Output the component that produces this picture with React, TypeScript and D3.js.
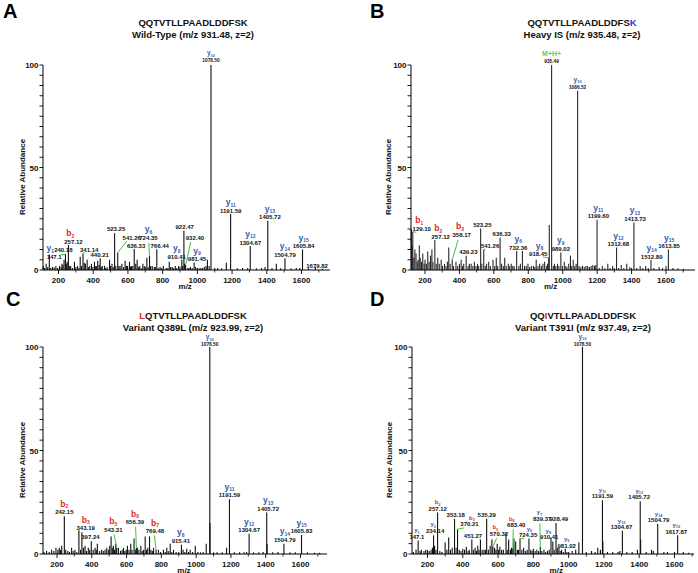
import React from 'react';
import * as d3 from 'd3';

type Peak = [number, number];
type Ann = {
  mz: number; ab: number; num: string; ion?: string; sub?: string;
  lx: number; ly: number; ix?: number; ls?: [number, number]; top?: boolean;
};

// ---------------- DATA ----------------
const seqs = ['QQTVTLLPAADLDDFSK', 'QQTVTLLPAADLDDFSK', 'LQTVTLLPAADLDDFSK', 'QQIVTLLPAADLDDFSK'];
const seqHighlight = [-1, 16, 0, 2];
const subtitles = [
  'Wild-Type (m/z 931.48, z=2)',
  'Heavy IS (m/z 935.48, z=2)',
  'Variant Q389L (m/z 923.99, z=2)',
  'Variant T391I (m/z 937.49, z=2)',
];
const letters = ['A', 'B', 'C', 'D'];
const xTickValues = [200, 400, 600, 800, 1000, 1200, 1400, 1600];
const yTickLabels = [0, 50, 100];

const peaksA: Peak[] = [
  [112, 2], [120, 1], [129, 3], [138, 1.5], [147.1, 7.6], [155, 1], [165, 1.5], [175, 1.2], [185, 2], [195, 1],
  [206, 2], [215, 1.5], [220, 3], [226, 2.5], [232, 5], [240.18, 7.8], [245, 3], [250, 4], [257.12, 12.2], [262, 2],
  [270, 2], [280, 1], [292, 4], [300, 1.5], [310, 2], [318, 1], [325, 6.5], [333, 2], [341.14, 8.1], [348, 3.5],
  [355, 3], [365, 5], [372, 1.5], [380, 2], [390, 3], [398, 1.5], [407, 4], [412, 2], [418, 2], [426, 4.5],
  [434, 2.5], [440.21, 5.7], [446, 1.5], [452, 2], [465, 2], [472, 1], [480, 1.5], [494, 5], [500, 2], [508, 3],
  [515, 1.5], [523.25, 17.9], [530, 2], [541.26, 8.4], [548, 2], [555, 2], [565, 3], [575, 1.5], [584, 4.5], [592, 2],
  [598, 2], [609, 4], [615, 1.5], [620, 2], [628, 2], [636.33, 10.2], [645, 3], [653, 5], [660, 1.5], [668, 2],
  [676, 1], [686, 3], [694, 2], [700, 1.5], [709, 6], [716, 1.5], [724.35, 6.8], [731, 2], [740, 2], [752, 1.5],
  [758, 1.5], [766.44, 10.1], [775, 1], [785, 1.5], [795, 1], [804, 2], [820, 1], [830, 1], [838, 4], [846, 1.5],
  [855, 1.5], [864, 1], [873, 2], [882, 1], [892, 2], [900, 1.5], [910.41, 4.9], [915, 2], [922.47, 19.2], [927, 3],
  [932.4, 2.5], [945, 1], [952, 1], [960, 1.5], [970, 1], [981.45, 3.6], [990, 1.5], [1000, 1], [1010, 0.8], [1020, 1],
  [1030, 1], [1040, 1.5], [1050, 2], [1058, 5], [1068, 2], [1078.5, 100], [1100, 1], [1117, 1], [1140, 0.8], [1167, 3.5],
  [1191.59, 27.3], [1230, 0.8], [1260, 1], [1290, 1], [1304.67, 11.7], [1340, 0.8], [1370, 1], [1390, 1.5], [1405.72, 24], [1430, 1],
  [1455, 3], [1480, 0.8], [1504.79, 5.7], [1540, 0.8], [1570, 1], [1590, 1], [1605.84, 10], [1640, 0.8], [1679.82, 1.5], [1720, 0.6],
];

const annA: Ann[] = [
  { mz: 147.1, ab: 7.6, num: '147.1', ion: 'y', sub: '1', lx: 175, ly: 5.5, ix: 152 },
  { mz: 240.18, ab: 7.8, num: '240.18', lx: 228, ly: 8.6, ls: [212, 7.4] },
  { mz: 257.12, ab: 12.2, num: '257.12', ion: 'b', sub: '2', lx: 286, ly: 12.8, ix: 268 },
  { mz: 341.14, ab: 8.1, num: '341.14', lx: 377, ly: 8.7, ls: [352, 8.5] },
  { mz: 440.21, ab: 5.7, num: '440.21', lx: 437, ly: 6.4 },
  { mz: 523.25, ab: 17.9, num: '523.25', lx: 532, ly: 18.8 },
  { mz: 541.26, ab: 8.4, num: '541.26', lx: 622, ly: 14.7, ls: [594, 14.2] },
  { mz: 636.33, ab: 10.2, num: '636.33', lx: 647, ly: 10.9 },
  { mz: 724.35, ab: 6.8, num: '724.35', ion: 'y', sub: '6', lx: 718, ly: 14.7, ls: [720, 13.2] },
  { mz: 766.44, ab: 10.1, num: '766.44', lx: 783, ly: 10.8 },
  { mz: 910.41, ab: 4.9, num: '910.41', ion: 'y', sub: '8', lx: 881, ly: 5.4, ls: [904, 5.3] },
  { mz: 922.47, ab: 19.2, num: '922.47', lx: 927, ly: 19.9 },
  { mz: 932.4, ab: 2.5, num: '932.40', lx: 986, ly: 14.7, ls: [962, 13.6] },
  { mz: 981.45, ab: 3.6, num: '981.45', ion: 'y', sub: '9', lx: 998, ly: 4.3 },
  { mz: 1078.5, ab: 100, num: '1078.50', ion: 'y', sub: '10', lx: 1078.5, ly: 101.5, top: true },
  { mz: 1191.59, ab: 27.3, num: '1191.59', ion: 'y', sub: '11', lx: 1192, ly: 28 },
  { mz: 1304.67, ab: 11.7, num: '1304.67', ion: 'y', sub: '12', lx: 1305, ly: 12.4 },
  { mz: 1405.72, ab: 24, num: '1405.72', ion: 'y', sub: '13', lx: 1418, ly: 24.7 },
  { mz: 1504.79, ab: 5.7, num: '1504.79', ion: 'y', sub: '14', lx: 1505, ly: 6.4 },
  { mz: 1605.84, ab: 10, num: '1605.84', ion: 'y', sub: '15', lx: 1612, ly: 10.7 },
  { mz: 1679.82, ab: 1.5, num: '1679.82', lx: 1690, ly: 1.2 },
];

const peaksB: Peak[] = [
  [121, 20], [126, 12], [129.1, 18.7], [135, 6], [141, 10], [148, 8], [155, 4], [160, 5], [167, 12], [172, 6],
  [180, 4], [187, 8], [195, 3], [200, 5], [208, 3], [216, 9], [224, 4], [232, 7], [240, 10], [246, 4],
  [257.12, 14.6], [265, 3], [274, 6], [283, 3], [294, 5], [302, 2], [313, 3], [322, 2], [330, 4], [338, 11],
  [346, 3], [358.17, 5], [366, 2], [380, 4], [390, 2], [400, 3], [410, 5], [418, 2], [425, 3], [439.23, 7],
  [450, 2], [458, 3], [468, 3], [478, 2], [487, 4], [496, 2], [505, 3], [512, 2], [523.25, 20.3], [530, 3],
  [541.26, 10], [550, 2], [558, 3], [570, 4], [580, 2], [595, 5], [605, 2], [614, 6], [622, 2], [636.33, 15.8],
  [645, 3], [655, 2], [663, 6], [672, 2], [684, 3], [692, 2], [701, 3], [710, 2], [718, 2], [732.36, 9.3],
  [745, 2], [754, 3], [766, 9.3], [778, 2], [788, 2], [798, 3], [808, 1.5], [818, 2], [830, 2], [838, 1.5],
  [846, 5], [856, 2], [866, 3], [876, 2], [885, 3], [895, 4], [905, 2], [912, 3], [918.45, 6], [922, 22],
  [935.49, 100], [945, 2], [952, 3], [960, 2], [970, 3], [978, 2], [989.02, 8.5], [998, 2], [1009, 4], [1018, 2],
  [1025, 1.5], [1035, 3], [1045, 7], [1052, 2], [1061, 5], [1070, 2], [1078, 3], [1086.52, 87.5], [1095, 2], [1105, 1.5],
  [1115, 2], [1125, 1.5], [1135, 2], [1145, 2], [1155, 1.5], [1165, 2], [1175, 2.5], [1185, 2], [1192, 2.5], [1199.6, 24.5],
  [1212, 1], [1230, 2], [1245, 1], [1262, 3], [1275, 1], [1290, 2], [1300, 1], [1312.68, 11], [1325, 1], [1340, 2.5],
  [1355, 1], [1372, 3], [1390, 1.5], [1400, 1], [1413.73, 23.2], [1430, 1], [1450, 2], [1465, 1], [1482, 2], [1497, 1],
  [1512.8, 4.9], [1530, 1], [1560, 1.5], [1580, 1], [1600, 2], [1613.85, 10], [1640, 1], [1670, 0.8], [1700, 0.6],
];

const annB: Ann[] = [
  { mz: 129.1, ab: 18.7, num: '129.10', ion: 'b', sub: '1', lx: 181, ly: 19.2, ix: 167, ls: [150, 18.4] },
  { mz: 257.12, ab: 14.6, num: '257.12', ion: 'b', sub: '2', lx: 291, ly: 15.3, ix: 277 },
  { mz: 358.17, ab: 5, num: '358.17', ion: 'b', sub: '3', lx: 413, ly: 16.2, ix: 403, ls: [392, 14.6] },
  { mz: 439.23, ab: 7, num: '439.23', lx: 452, ly: 7.8 },
  { mz: 523.25, ab: 20.3, num: '523.25', lx: 533, ly: 21.1 },
  { mz: 541.26, ab: 10, num: '541.26', lx: 578, ly: 10.6, ls: [552, 10.2] },
  { mz: 636.33, ab: 15.8, num: '636.33', lx: 646, ly: 16.6 },
  { mz: 732.36, ab: 9.3, num: '732.36', ion: 'y', sub: '6', lx: 742, ly: 10 },
  { mz: 918.45, ab: 6, num: '918.45', ion: 'y', sub: '8', lx: 858, ly: 6.6, ix: 865, ls: [885, 6.3] },
  { mz: 989.02, ab: 8.5, num: '989.02', ion: 'y', sub: '9', lx: 989, ly: 9.3 },
  { mz: 935.49, ab: 100, num: '935.49', ion: 'M+H+', lx: 935.49, ly: 101.1, top: true },
  { mz: 1086.52, ab: 87.5, num: '1086.52', ion: 'y', sub: '10', lx: 1086.5, ly: 88.5, top: true },
  { mz: 1199.6, ab: 24.5, num: '1199.60', ion: 'y', sub: '11', lx: 1207, ly: 25.2 },
  { mz: 1312.68, ab: 11, num: '1312.68', ion: 'y', sub: '12', lx: 1323, ly: 11.7 },
  { mz: 1413.73, ab: 23.2, num: '1413.73', ion: 'y', sub: '13', lx: 1420, ly: 24 },
  { mz: 1512.8, ab: 4.9, num: '1512.80', ion: 'y', sub: '14', lx: 1517, ly: 5.6 },
  { mz: 1613.85, ab: 10, num: '1613.85', ion: 'y', sub: '15', lx: 1618, ly: 10.7 },
];

const peaksC: Peak[] = [
  [112, 1], [125, 1], [140, 1.5], [155, 1], [169, 2], [182, 1.5], [194, 3], [205, 2], [213, 3], [220, 2],
  [227, 4], [242.15, 18.2], [250, 2], [262, 1.5], [272, 1], [284, 3], [293, 1.5], [303, 2], [314, 1], [326, 11.5],
  [335, 2], [343.19, 10.5], [352, 3], [361, 4], [370, 1.5], [380, 3], [388, 2], [397.24, 6.2], [408, 2], [419, 3],
  [426, 2], [432, 5], [445, 1.5], [457, 2], [466, 1.5], [476, 2], [486, 3], [495, 2], [503, 4], [511, 8.5],
  [518, 3], [524, 4], [531, 2], [538, 5], [543.31, 3], [553, 3], [565, 1.5], [574, 2], [582, 3], [590, 1.5],
  [598, 2], [605, 4], [614, 2], [624, 5], [631, 2], [643, 7.5], [650, 2], [656.39, 3], [662, 3], [671, 2],
  [682, 4], [690, 1.5], [698, 2], [707, 8.5], [715, 2], [722, 3], [732, 8.5], [740, 2], [748, 1.5], [755, 3],
  [769.48, 2], [783, 2], [795, 1], [812, 2], [822, 1], [831, 3], [840, 1.5], [851, 5], [860, 1], [870, 2],
  [885, 1], [900, 1], [915.41, 4.5], [925, 2], [935, 1], [946, 2.5], [956, 1], [966, 2], [980, 1], [995, 4],
  [1010, 1], [1025, 0.8], [1040, 1], [1058, 5], [1078.5, 100], [1079.6, 15], [1100, 0.8], [1120, 0.8], [1150, 0.8], [1175, 3],
  [1191.59, 26.5], [1220, 0.8], [1250, 0.8], [1275, 0.8], [1290, 1], [1304.67, 9.8], [1330, 0.8], [1360, 0.8], [1385, 1], [1405.72, 20],
  [1408, 5], [1440, 0.8], [1470, 1], [1504.79, 5], [1540, 0.8], [1570, 0.8], [1605.83, 9.2], [1640, 0.8], [1680, 0.6], [1710, 0.6],
];

const annC: Ann[] = [
  { mz: 242.15, ab: 18.2, num: '242.15', ion: 'b', sub: '2', lx: 242, ly: 19.1 },
  { mz: 343.19, ab: 10.5, num: '343.19', ion: 'b', sub: '3', lx: 365, ly: 11.5 },
  { mz: 397.24, ab: 6.2, num: '397.24', lx: 392, ly: 7.1 },
  { mz: 543.31, ab: 3, num: '543.31', ion: 'b', sub: '5', lx: 524, ly: 10.7, ls: [528, 9.4] },
  { mz: 656.39, ab: 3, num: '656.39', ion: 'b', sub: '6', lx: 648, ly: 14.4, ls: [652, 13.2] },
  { mz: 769.48, ab: 2, num: '769.48', ion: 'b', sub: '7', lx: 763, ly: 10.1, ls: [760, 8.9] },
  { mz: 915.41, ab: 4.5, num: '915.41', ion: 'y', sub: '8', lx: 912, ly: 5.4 },
  { mz: 1078.5, ab: 100, num: '1078.50', ion: 'y', sub: '10', lx: 1078.5, ly: 100.6, top: true },
  { mz: 1191.59, ab: 26.5, num: '1191.59', ion: 'y', sub: '11', lx: 1192, ly: 27.3 },
  { mz: 1304.67, ab: 9.8, num: '1304.67', ion: 'y', sub: '12', lx: 1305, ly: 10.6 },
  { mz: 1405.72, ab: 20, num: '1405.72', ion: 'y', sub: '13', lx: 1414, ly: 20.8 },
  { mz: 1504.79, ab: 5, num: '1504.79', ion: 'y', sub: '14', lx: 1510, ly: 5.8 },
  { mz: 1605.83, ab: 9.2, num: '1605.83', ion: 'y', sub: '15', lx: 1606, ly: 10 },
];

const peaksD: Peak[] = [
  [120, 1], [135, 2], [147.1, 6.5], [158, 1.5], [165, 2], [180, 1.5], [190, 2], [200, 2], [210, 1.5], [220, 2],
  [228, 3], [234.14, 9], [240, 4], [248, 2], [257.12, 20], [270, 1.5], [282, 1], [300, 5.5], [310, 2], [320, 8],
  [330, 2], [340, 3], [353.18, 17], [362, 3], [370.21, 12], [380, 2], [390, 1.5], [400, 2.5], [410, 2], [420, 3.5],
  [430, 1.5], [437, 2], [451.27, 7], [460, 2], [470, 3], [478, 1.5], [485, 4], [492, 2], [500, 7], [510, 2],
  [520, 2], [528, 2], [535.29, 17], [545, 2], [555, 4], [565, 7], [570.32, 3.5], [580, 3], [588, 2], [595, 5],
  [603, 2], [610, 3.5], [620, 2], [630, 2], [645, 10], [652, 2], [660, 7], [670, 2], [676, 3], [683.4, 2.7],
  [690, 7.5], [700, 6], [710, 2], [716, 2], [724.35, 7.5], [735, 2], [745, 3], [755, 1.5], [765, 2], [775, 7.5],
  [785, 2], [793, 1.5], [800, 2.5], [810, 1.5], [820, 2], [830, 1.5], [839.37, 3.5], [848, 1.5], [860, 2], [870, 1],
  [880, 1.5], [890, 2], [900, 8], [910.41, 5.9], [918, 2], [928.49, 15], [936, 3], [945, 3], [952, 1.5], [960, 2],
  [970, 1], [981.02, 2.5], [990, 1], [1000, 1], [1020, 1.5], [1040, 2], [1058, 5.5], [1078.5, 100], [1100, 1], [1130, 1.5],
  [1150, 1], [1165, 3], [1180, 2], [1191.59, 26], [1194, 6], [1220, 1], [1250, 1], [1280, 1], [1290, 1.5], [1304.67, 11.2],
  [1330, 1], [1360, 1], [1390, 2], [1405.72, 25.5], [1408, 7], [1440, 1], [1470, 2], [1480, 1.5], [1504.79, 14.5], [1540, 1],
  [1560, 1], [1600, 1], [1617.87, 9], [1650, 1], [1680, 0.6],
];

const annD: Ann[] = [
  { mz: 147.1, ab: 6.5, num: '147.1', ion: 'y', sub: '1', lx: 140, ly: 7.3 },
  { mz: 234.14, ab: 9, num: '234.14', ion: 'y', sub: '2', lx: 243, ly: 10.2, ix: 232 },
  { mz: 257.12, ab: 20, num: '257.12', ion: 'b', sub: '2', lx: 258, ly: 20.8 },
  { mz: 353.18, ab: 17, num: '353.18', lx: 360, ly: 17.8 },
  { mz: 370.21, ab: 12, num: '370.21', ion: 'b', sub: '3', lx: 438, ly: 13.4, ix: 452, ls: [408, 12.6] },
  { mz: 451.27, ab: 7, num: '451.27', lx: 458, ly: 7.8 },
  { mz: 535.29, ab: 17, num: '535.29', lx: 536, ly: 17.8 },
  { mz: 570.32, ab: 3.5, num: '570.32', ion: 'b', sub: '5', lx: 605, ly: 8.8, ix: 585, ls: [592, 7.6] },
  { mz: 683.4, ab: 2.7, num: '683.40', ion: 'b', sub: '6', lx: 703, ly: 13, ix: 678, ls: [686, 11.8] },
  { mz: 724.35, ab: 7.5, num: '724.35', ion: 'y', sub: '6', lx: 770, ly: 8, ix: 778, ls: [748, 7.4] },
  { mz: 839.37, ab: 3.5, num: '839.37', ion: 'y', sub: '7', lx: 850, ly: 16, ix: 835, ls: [837, 14.8] },
  { mz: 910.41, ab: 5.9, num: '910.41', ion: 'y', sub: '8', lx: 890, ly: 7.2, ix: 885, ls: [903, 6.5] },
  { mz: 928.49, ab: 15, num: '928.49', lx: 945, ly: 15.8 },
  { mz: 981.02, ab: 2.5, num: '981.02', ion: 'y', sub: '9', lx: 989, ly: 3.1 },
  { mz: 1078.5, ab: 100, num: '1078.50', ion: 'y', sub: '10', lx: 1078.5, ly: 100.7, top: true },
  { mz: 1191.59, ab: 26, num: '1191.59', ion: 'y', sub: '11', lx: 1192, ly: 27 },
  { mz: 1304.67, ab: 11.2, num: '1304.67', ion: 'y', sub: '12', lx: 1300, ly: 12 },
  { mz: 1405.72, ab: 25.5, num: '1405.72', ion: 'y', sub: '13', lx: 1400, ly: 26.5 },
  { mz: 1504.79, ab: 14.5, num: '1504.79', ion: 'y', sub: '14', lx: 1510, ly: 15.4 },
  { mz: 1617.87, ab: 9, num: '1617.87', ion: 'y', sub: '15', lx: 1610, ly: 9.9 },
];

// ---------------- STYLE ----------------
const FONT = "'Liberation Sans', Arial, Helvetica, sans-serif";
const BLUE = '#3b5ca8';
const RED = '#dd2b26';
const GREEN_T = '#66cc66';
const GREEN_L = '#3cc43c';

type Cfg = {
  axisX: number; y0: number; y100: number; x200: number; x1600: number; xEnd: number;
  titleX: number; t1: number; t2: number; letterX: number; letterY: number;
  ylabX: number; ylabY: number; bar: string; smallIon: boolean; hiColor: string;
};

function Panel({ cfg, idx, peaks, anns }: { cfg: Cfg; idx: number; peaks: Peak[]; anns: Ann[] }) {
  const x = d3.scaleLinear().domain([200, 1600]).range([cfg.x200, cfg.x1600]);
  const y = d3.scaleLinear().domain([0, 100]).range([cfg.y0, cfg.y100]);
  const xMin = x.invert(cfg.axisX);
  const xMax = x.invert(cfg.xEnd);
  const yTicks = d3.range(0, 101, 5);
  const xMinor = d3.range(100, xMax, 100).filter((v) => v >= xMin && v % 200 !== 0);
  const seq = seqs[idx];
  const hi = seqHighlight[idx];
  const mzCenter = x(930);

  return (
    <g fontFamily={FONT}>
      <text x={cfg.letterX} y={cfg.letterY} fontSize={20} fontWeight="bold" fill="#000">{letters[idx]}</text>
      <text x={cfg.titleX} y={cfg.t1} textAnchor="middle" fontSize={9.5} fontWeight="bold" fill="#111">
        {seq.split('').map((ch, i) => (
          <tspan key={i} fill={i === hi ? cfg.hiColor : '#111'}>{ch}</tspan>
        ))}
      </text>
      <text x={cfg.titleX} y={cfg.t2} textAnchor="middle" fontSize={9.5} fontWeight="bold" fill="#111">{subtitles[idx]}</text>

      {/* peaks */}
      {peaks.filter((p) => p[0] >= xMin && p[0] <= xMax).map((p, i) => (
        <line key={i} x1={x(p[0])} x2={x(p[0])} y1={cfg.y0} y2={y(p[1])} stroke={cfg.bar} strokeWidth={1.1} />
      ))}

      {/* y axis */}
      <line x1={cfg.axisX} x2={cfg.axisX} y1={cfg.y0} y2={cfg.y100} stroke="#000" strokeWidth={1} />
      {yTicks.map((t) => (
        <line key={t} x1={cfg.axisX - 3.5} x2={cfg.axisX} y1={y(t)} y2={y(t)} stroke="#000" strokeWidth={0.9} />
      ))}
      {yTickLabels.map((t) => (
        <text key={t} x={cfg.axisX - 4.5} y={y(t) + 3} textAnchor="end" fontSize={8} fontWeight="bold" fill="#111">{t}</text>
      ))}
      <text transform={`translate(${cfg.ylabX},${cfg.ylabY}) rotate(-90)`} textAnchor="middle" fontSize={8} fontWeight="bold" fill="#111">Relative Abundance</text>

      {/* x axis */}
      <line x1={cfg.axisX} x2={cfg.xEnd} y1={cfg.y0} y2={cfg.y0} stroke="#000" strokeWidth={1} />
      {xTickValues.map((t) => (
        <g key={t}>
          <line x1={x(t)} x2={x(t)} y1={cfg.y0} y2={cfg.y0 + 4} stroke="#000" strokeWidth={0.9} />
          <text x={x(t)} y={cfg.y0 + 12.5} textAnchor="middle" fontSize={8} fontWeight="bold" fill="#111">{t}</text>
        </g>
      ))}
      {xMinor.map((t) => (
        <line key={t} x1={x(t)} x2={x(t)} y1={cfg.y0} y2={cfg.y0 + 2.5} stroke="#000" strokeWidth={0.8} />
      ))}
      <text x={mzCenter} y={cfg.y0 + 18.5} textAnchor="middle" fontSize={8} fontWeight="bold" fill="#111">m/z</text>

      {/* annotations */}
      {anns.map((a, i) => {
        const nx = x(a.lx);
        const ny = y(a.ly);
        const numFs = a.top ? 4.8 : 6;
        const ionFs = a.top ? 6.5 : cfg.smallIon ? 6 : 8.5;
        const subFs = a.top ? 4 : cfg.smallIon ? 3.8 : 5;
        const gap = a.top ? 6.5 : cfg.smallIon ? 6.5 : 7.5;
        const color = a.ion === 'b' ? RED : a.ion === 'M+H+' ? GREEN_T : BLUE;
        return (
          <g key={i}>
            {a.ls && (
              <line x1={x(a.ls[0])} y1={y(a.ls[1])} x2={x(a.mz)} y2={y(a.ab)} stroke={GREEN_L} strokeWidth={1} />
            )}
            <text x={nx} y={ny} textAnchor="middle" fontSize={numFs} fontWeight="bold" fill="#111">{a.num}</text>
            {a.ion && (
              <text x={x(a.ix ?? a.lx)} y={ny - gap} textAnchor="middle" fontSize={a.ion === 'M+H+' ? 7 : ionFs} fontWeight="bold" fill={color}>
                {a.ion}
                {a.sub && <tspan fontSize={subFs} dy={1.4}>{a.sub}</tspan>}
              </text>
            )}
          </g>
        );
      })}
    </g>
  );
}

export default function App() {
  const cfgs: Cfg[] = [
    { axisX: 43, y0: 270, y100: 65, x200: 58.5, x1600: 301.5, xEnd: 330, titleX: 193, t1: 26, t2: 37.5, letterX: 3, letterY: 18, ylabX: 25, ylabY: 177, bar: '#111', smallIon: false, hiColor: '#111' },
    { axisX: 411, y0: 270, y100: 65, x200: 425, x1600: 666, xEnd: 695, titleX: 582, t1: 26, t2: 37.5, letterX: 370, letterY: 18, ylabX: 391, ylabY: 177, bar: '#2a2a2a', smallIon: false, hiColor: '#1f3fcf' },
    { axisX: 43, y0: 554, y100: 347, x200: 57, x1600: 300.5, xEnd: 327, titleX: 193, t1: 319, t2: 331, letterX: 6, letterY: 306, ylabX: 24.5, ylabY: 460, bar: '#111', smallIon: false, hiColor: '#d42a2a' },
    { axisX: 412, y0: 554, y100: 347, x200: 427.5, x1600: 674.5, xEnd: 694, titleX: 583, t1: 319, t2: 331, letterX: 370, letterY: 306, ylabX: 392, ylabY: 460, bar: '#111', smallIon: true, hiColor: '#d42a2a' },
  ];
  const peakSets = [peaksA, peaksB, peaksC, peaksD];
  const annSets = [annA, annB, annC, annD];
  return (
    <svg width={698} height={573} viewBox="0 0 698 573" style={{ position: 'absolute', left: 0, top: 0, background: '#fff' }}>
      <rect width={698} height={573} fill="#fff" />
      {cfgs.map((c, i) => (
        <Panel key={i} cfg={c} idx={i} peaks={peakSets[i]} anns={annSets[i]} />
      ))}
    </svg>
  );
}
